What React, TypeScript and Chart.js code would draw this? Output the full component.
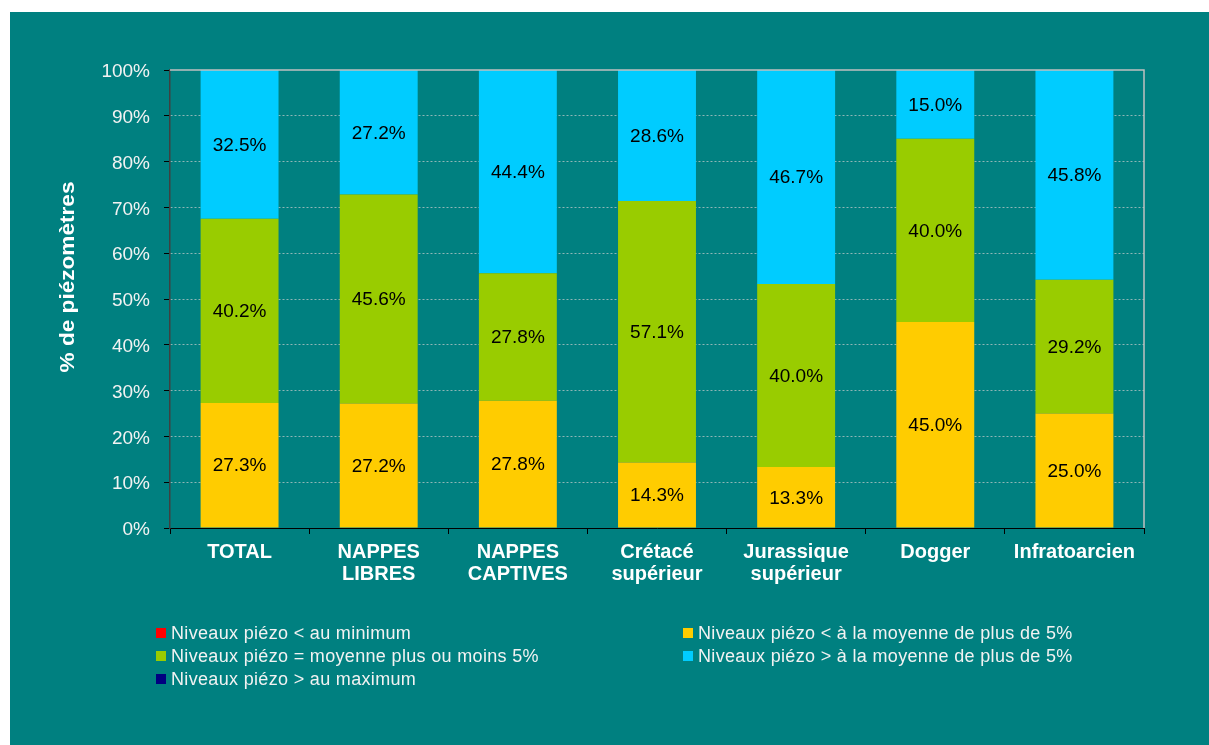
import { useEffect, useRef } from "react";
import { Chart, registerables } from "chart.js";

Chart.register(...registerables);

const categories: string[][] = [
  ["TOTAL"],
  ["NAPPES", "LIBRES"],
  ["NAPPES", "CAPTIVES"],
  ["Crétacé", "supérieur"],
  ["Jurassique", "supérieur"],
  ["Dogger"],
  ["Infratoarcien"],
];
const belowMinimum = [0, 0, 0, 0, 0, 0, 0];
const belowAverage = [27.3, 27.2, 27.8, 14.3, 13.3, 45.0, 25.0];
const nearAverage = [40.2, 45.6, 27.8, 57.1, 40.0, 40.0, 29.2];
const aboveAverage = [32.5, 27.2, 44.4, 28.6, 46.7, 15.0, 45.8];
const aboveMaximum = [0, 0, 0, 0, 0, 0, 0];

const seriesLabels = [
  "Niveaux piézo < au minimum",
  "Niveaux piézo < à la moyenne de plus de 5%",
  "Niveaux piézo = moyenne plus ou moins 5%",
  "Niveaux piézo > à la moyenne de plus de 5%",
  "Niveaux piézo > au maximum",
];
const seriesColors = ["#FF0000", "#FFCC00", "#99CC00", "#00CCFF", "#000080"];
const yAxisTitle = "% de piézomètres";

const FONT = "'Liberation Sans', Arial, sans-serif";
const TEAL = "#008080";

const labelPlugin = {
  id: "customDraw",
  afterDatasetsDraw(chart: any) {
    const { ctx, chartArea } = chart;
    ctx.save();
    // frame top & right
    ctx.strokeStyle = "#c0c0c0";
    ctx.lineWidth = 1.5;
    ctx.beginPath();
    ctx.moveTo(chartArea.left, chartArea.top);
    ctx.lineTo(chartArea.right, chartArea.top);
    ctx.lineTo(chartArea.right, chartArea.bottom);
    ctx.stroke();
    // data labels
    ctx.fillStyle = "#000000";
    ctx.font = `19px ${FONT}`;
    ctx.textAlign = "center";
    ctx.textBaseline = "middle";
    chart.data.datasets.forEach((ds: any, i: number) => {
      const meta = chart.getDatasetMeta(i);
      meta.data.forEach((el: any, j: number) => {
        const v = ds.data[j];
        if (!v) return;
        const y = (el.y + el.base) / 2;
        ctx.fillText(v.toFixed(1) + "%", el.x, y + 1);
      });
    });
    // y axis title
    ctx.fillStyle = "#ffffff";
    ctx.font = `bold 20px ${FONT}`;
    ctx.translate(58, 265);
    ctx.rotate(-Math.PI / 2);
    ctx.scale(1.13, 1);
    ctx.fillText(yAxisTitle, 0, 0);
    ctx.restore();
  },
};

export default function App() {
  const canvasRef = useRef<HTMLCanvasElement | null>(null);

  useEffect(() => {
    const canvas = canvasRef.current;
    if (!canvas) return;
    const data = [belowMinimum, belowAverage, nearAverage, aboveAverage, aboveMaximum];
    const chart = new Chart(canvas, {
      type: "bar",
      data: {
        labels: categories,
        datasets: data.map((d, i) => ({
          label: seriesLabels[i],
          data: d,
          backgroundColor: seriesColors[i],
          borderWidth: 0,
          categoryPercentage: 1,
          barPercentage: 0.56,
        })),
      },
      options: {
        responsive: false,
        animation: false,
        layout: { padding: { left: 60, top: 58, right: 65, bottom: 137 } },
        plugins: {
          legend: { display: false },
          tooltip: { enabled: false },
          title: { display: false },
        },
        scales: {
          x: {
            stacked: true,
            afterFit: (s: any) => {
              s.height = 80;
            },
            grid: {
              offset: true,
              drawOnChartArea: false,
              drawTicks: true,
              tickLength: 6,
              tickColor: "#000000",
              tickWidth: 1,
            },
            border: { color: "#000000", width: 1 },
            ticks: {
              color: "#ffffff",
              font: { family: FONT, size: 20, weight: "bold", lineHeight: 1.1 },
              padding: 7,
              maxRotation: 0,
              autoSkip: false,
            },
          },
          y: {
            stacked: true,
            min: 0,
            max: 100,
            afterFit: (s: any) => {
              s.width = 100;
            },
            grid: {
              color: (c: any) =>
                c.tick && (c.tick.value === 0 || c.tick.value === 100)
                  ? "rgba(0,0,0,0)"
                  : "rgba(190,200,200,0.75)",
              lineWidth: 1,
              drawTicks: true,
              tickLength: 6,
              tickColor: "#000000",
              tickBorderDash: [],
            },
            border: { color: "#404040", width: 1.5, dash: [2, 2] },
            ticks: {
              stepSize: 10,
              color: "#f2f2f2",
              font: { family: FONT, size: 19 },
              padding: 14,
              labelOffset: 2,
              callback: (v: any) => v + "%",
            },
          },
        },
      },
      plugins: [labelPlugin],
    });
    return () => chart.destroy();
  }, []);

  const legendRows = [
    { i: 0, left: 146, top: 610 },
    { i: 1, left: 673, top: 610 },
    { i: 2, left: 146, top: 633 },
    { i: 3, left: 673, top: 633 },
    { i: 4, left: 146, top: 656 },
  ];

  return (
    <div style={{ position: "absolute", left: 0, top: 0, width: 1209, height: 745, background: "#ffffff" }}>
      <div style={{ position: "absolute", left: 10, top: 12, width: 1199, height: 733, background: TEAL }}>
        <canvas ref={canvasRef} width={1199} height={733} style={{ display: "block", width: 1199, height: 733 }} />
        {legendRows.map((r) => (
          <div
            key={r.i}
            style={{
              position: "absolute",
              left: r.left,
              top: r.top,
              height: 22,
              display: "flex",
              alignItems: "center",
              fontFamily: FONT,
              fontSize: 18,
              letterSpacing: "0.33px",
              color: "#f2f2f2",
              whiteSpace: "nowrap",
            }}
          >
            <span style={{ display: "inline-block", width: 10, height: 10, background: seriesColors[r.i], marginRight: 5 }} />
            <span>{seriesLabels[r.i]}</span>
          </div>
        ))}
      </div>
    </div>
  );
}
